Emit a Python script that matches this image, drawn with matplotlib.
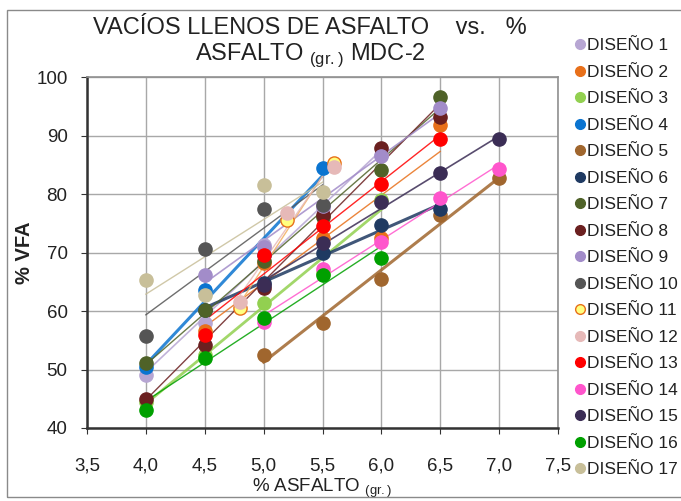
import numpy as np
import matplotlib
matplotlib.use("Agg")
import matplotlib.pyplot as plt
from matplotlib.lines import Line2D
from matplotlib.patches import Rectangle

plt.rcParams['font.family'] = ['Liberation Sans', 'DejaVu Sans']
plt.rcParams['mathtext.fontset'] = 'custom'
plt.rcParams['mathtext.rm'] = 'Liberation Sans'

# % asfalto grids used by the mix designs
x_40_60 = [4.0, 4.5, 5.0, 5.5, 6.0]
x_40_65 = [4.0, 4.5, 5.0, 5.5, 6.0, 6.5]
x_45_65 = [4.5, 5.0, 5.5, 6.0, 6.5]
x_40_55 = [4.0, 4.5, 5.0, 5.5]
x_50_70 = [5.0, 5.5, 6.0, 6.5, 7.0]
x_48_56 = [4.8, 5.2, 5.6]

# % VFA per design
vfa_1 = [49.1, 57.9, 71.3, 77.6, 86.7]
vfa_2 = [56.5, 68.2, 72.5, 72.5, 91.8]
vfa_3 = [44.5, 52.5, 61.3, 66.5, 79.0]
vfa_4 = [50.5, 63.6, 69.5, 84.4]
vfa_5 = [52.5, 58.0, 65.5, 76.4, 82.7]
vfa_6 = [60.2, 64.8, 69.9, 74.7, 77.4]
vfa_7 = [51.1, 60.2, 68.5, 76.0, 84.1, 96.6]
vfa_8 = [45.0, 54.2, 64.0, 76.4, 87.8, 93.2]
vfa_9 = [66.2, 71.0, 78.0, 86.5, 94.7]
vfa_10 = [55.7, 70.6, 77.4, 78.1]
vfa_11 = [60.5, 75.5, 85.3]
vfa_12 = [61.5, 76.8, 84.6]
vfa_13 = [55.9, 69.6, 74.5, 81.7, 89.4]
vfa_14 = [58.1, 67.2, 71.8, 79.3, 84.3]
vfa_15 = [64.5, 71.6, 78.6, 83.6, 89.4]
vfa_16 = [43.1, 52.0, 58.8, 66.2, 69.1]
vfa_17 = [65.3, 62.7, 81.5, 80.3]

series = [
    (x_40_60, vfa_1), (x_45_65, vfa_2), (x_40_60, vfa_3), (x_40_55, vfa_4),
    (x_50_70, vfa_5), (x_45_65, vfa_6), (x_40_65, vfa_7), (x_40_65, vfa_8),
    (x_45_65, vfa_9), (x_40_55, vfa_10), (x_48_56, vfa_11), (x_48_56, vfa_12),
    (x_45_65, vfa_13), (x_50_70, vfa_14), (x_50_70, vfa_15), (x_40_60, vfa_16),
    (x_40_55, vfa_17),
]
labels = [f"DISEÑO {i}" for i in range(1, 18)]

face = ['#B7A6D3', '#E8701A', '#92D050', '#0B74D0', '#A0662E', '#1F3A62',
        '#4F6228', '#6B2020', '#A28CC9', '#555555', '#FFFF80', '#E6B9B8',
        '#FF0000', '#FF55CC', '#3B2D55', '#00A000', '#C8BF99']
edge = list(face)
edge[10] = '#E8701A'
line_col = list(face)
line_col[10] = '#F2B060'
line_w = [1.2, 1.0, 2.0, 2.2, 2.2, 2.2, 1.0, 1.0, 1.2, 1.0, 1.0, 1.0,
          1.0, 1.0, 1.2, 1.0, 1.0]

fig = plt.figure(figsize=(6.81, 5.01), dpi=100)
ax = fig.add_axes([87 / 681, 73 / 501, 471 / 681, 351 / 501])

# linear trendline for every design, then its points on top
for (xs, ys), lc, lw in zip(series, line_col, line_w):
    xs = np.array(xs)
    k, b = np.polyfit(xs, ys, 1)
    xt = np.array([xs.min(), xs.max()])
    ax.plot(xt, k * xt + b, color=lc, lw=lw, alpha=0.85, zorder=2)
for (xs, ys), fc, ec in zip(series, face, edge):
    ax.plot(xs, ys, 'o', ms=9.5, mfc=fc, mec=ec, mew=1.0, zorder=3)

ax.set_xlim(3.5, 7.5)
ax.set_ylim(40, 100)
ax.set_xticks(np.arange(3.5, 7.51, 0.5))
ax.set_yticks(range(40, 101, 10))
ax.set_xticklabels([f"{v:.1f}".replace('.', ',') for v in np.arange(3.5, 7.51, 0.5)])
ax.tick_params(labelsize=13.5, length=4, color='#333333', labelcolor='#222222')
ax.tick_params(axis='x', pad=17)
ax.tick_params(axis='y', pad=10)
ax.grid(True, color='#A8A8A8', lw=1.0)
ax.set_axisbelow(True)
for side in ['top', 'right']:
    ax.spines[side].set_color('#909090')
    ax.spines[side].set_linewidth(1.2)
for side in ['left', 'bottom']:
    ax.spines[side].set_color('#333333')
    ax.spines[side].set_linewidth(1.8)

ax.set_xlabel(r"% ASFALTO $_{\rm (gr.)}$", fontsize=13.5, color='#222222', labelpad=2)
ax.set_ylabel("% VFA", fontsize=14.5, fontweight='bold', color='#222222', labelpad=1.5)

fig.text(310 / 681, 1 - 28 / 501, "VACÍOS LLENOS DE ASFALTO    vs.   %",
         ha='center', va='center', fontsize=17, color='#222222')
fig.text(310 / 681, 1 - 55 / 501, r"ASFALTO $_{\rm (gr.)}$ MDC-2",
         ha='center', va='center', fontsize=17, color='#222222')

# outer chart frame
fig.add_artist(Rectangle((7 / 681, 4 / 501), 1.0, 487 / 501, transform=fig.transFigure,
                         fill=False, ec='#8A8A8A', lw=1.0))

handles = [Line2D([], [], ls='none', marker='o', ms=7, mfc=fc, mec=ec, mew=1.0)
           for fc, ec in zip(face, edge)]
fig.legend(handles, labels, loc='upper left', bbox_to_anchor=(568 / 681, 1 - 31 / 501),
           frameon=False, fontsize=12.5, handlelength=0.6, handletextpad=0.12,
           labelspacing=0.655, borderaxespad=0, labelcolor='#222222')

fig.savefig("out.png", dpi=100)
